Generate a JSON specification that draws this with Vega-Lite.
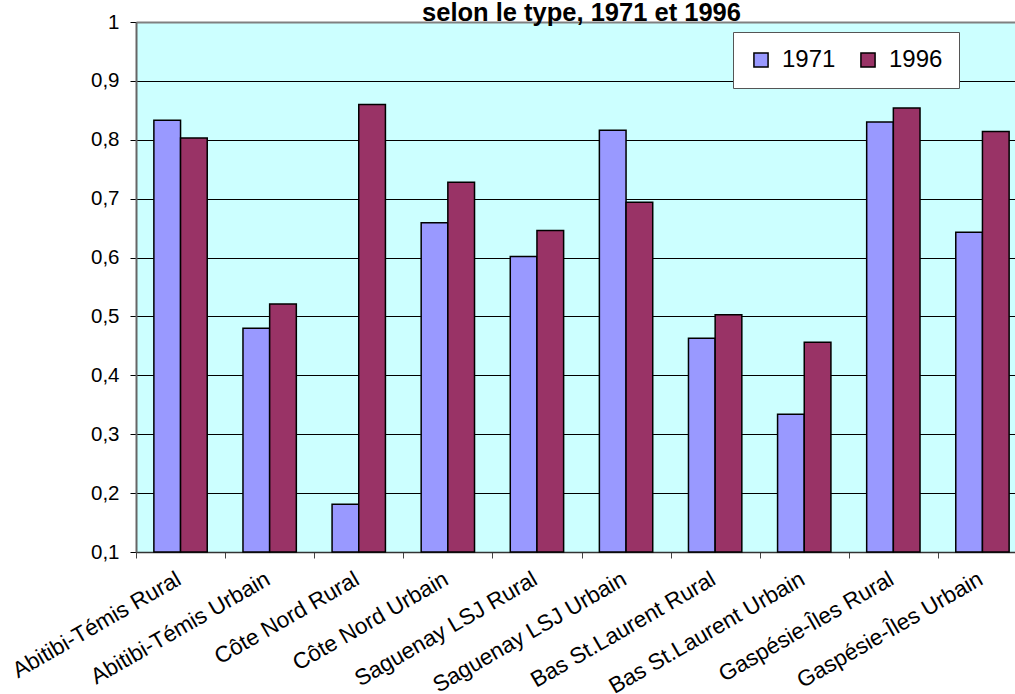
{
  "$schema": "https://vega.github.io/schema/vega-lite/v6.json",
  "autosize": {"type": "none"},
  "padding": {"left": 136, "top": 22, "right": 0, "bottom": 142},
  "width": 879,
  "height": 530,
  "title": {
    "text": "selon le type, 1971 et 1996",
    "font": "Liberation Sans",
    "fontSize": 25.5,
    "fontWeight": "bold",
    "color": "black",
    "anchor": "middle",
    "frame": "group",
    "baseline": "alphabetic",
    "offset": 0,
    "dy": 34,
    "dx": 6
  },
  "data": {
    "values": [
      {"region": "Abitibi-Témis Rural", "annee": "1971", "valeur": 0.833},
      {"region": "Abitibi-Témis Rural", "annee": "1996", "valeur": 0.803},
      {"region": "Abitibi-Témis Urbain", "annee": "1971", "valeur": 0.480},
      {"region": "Abitibi-Témis Urbain", "annee": "1996", "valeur": 0.521},
      {"region": "Côte Nord Rural", "annee": "1971", "valeur": 0.181},
      {"region": "Côte Nord Rural", "annee": "1996", "valeur": 0.860},
      {"region": "Côte Nord Urbain", "annee": "1971", "valeur": 0.659},
      {"region": "Côte Nord Urbain", "annee": "1996", "valeur": 0.728},
      {"region": "Saguenay LSJ Rural", "annee": "1971", "valeur": 0.602},
      {"region": "Saguenay LSJ Rural", "annee": "1996", "valeur": 0.646},
      {"region": "Saguenay LSJ Urbain", "annee": "1971", "valeur": 0.816},
      {"region": "Saguenay LSJ Urbain", "annee": "1996", "valeur": 0.694},
      {"region": "Bas St.Laurent Rural", "annee": "1971", "valeur": 0.463},
      {"region": "Bas St.Laurent Rural", "annee": "1996", "valeur": 0.503},
      {"region": "Bas St.Laurent Urbain", "annee": "1971", "valeur": 0.334},
      {"region": "Bas St.Laurent Urbain", "annee": "1996", "valeur": 0.456},
      {"region": "Gaspésie-Îles Rural", "annee": "1971", "valeur": 0.830},
      {"region": "Gaspésie-Îles Rural", "annee": "1996", "valeur": 0.854},
      {"region": "Gaspésie-Îles Urbain", "annee": "1971", "valeur": 0.643},
      {"region": "Gaspésie-Îles Urbain", "annee": "1996", "valeur": 0.814}
    ]
  },
  "mark": {"type": "bar", "stroke": "black", "strokeWidth": 1.5, "clip": false},
  "encoding": {
    "x": {
      "field": "region",
      "type": "nominal",
      "sort": null,
      "title": null,
      "scale": {"range": [0, 891], "paddingInner": 0, "paddingOuter": 0},
      "axis": {
        "tickBand": "extent",
        "labelAngle": -30,
        "labelAlign": "right",
        "labelBaseline": "middle",
        "labelFont": "Liberation Sans",
        "labelFontSize": 22.5,
        "labelColor": "black",
        "labelPadding": 19,
        "labelOffset": -2,
        "labelOverlap": false,
        "labelLimit": 400,
        "tickSize": 6,
        "tickColor": "#444",
        "domainColor": "#333",
        "domainWidth": 1.5,
        "grid": false
      }
    },
    "xOffset": {
      "field": "annee",
      "type": "nominal",
      "scale": {"paddingInner": 0, "paddingOuter": 0.67}
    },
    "y": {
      "field": "valeur",
      "type": "quantitative",
      "title": null,
      "scale": {"domain": [0.1, 1], "nice": false, "zero": false},
      "axis": {
        "values": [0.1, 0.2, 0.3, 0.4, 0.5, 0.6, 0.7, 0.8, 0.9, 1],
        "labelExpr": "replace(format(datum.value, '.1~f'), '.', ',')",
        "labelFont": "Liberation Sans",
        "labelFontSize": 20.5,
        "labelColor": "black",
        "labelPadding": 11,
        "tickSize": 6,
        "tickColor": "black",
        "domainColor": "#666",
        "domainWidth": 2,
        "grid": true,
        "gridColor": {"condition": {"test": "datum.value == 1", "value": "#808080"}, "value": "black"},
        "gridWidth": {"condition": {"test": "datum.value == 1", "value": 2}, "value": 1},
        "gridOpacity": 1
      }
    },
    "y2": {"datum": 0.1},
    "color": {
      "field": "annee",
      "type": "nominal",
      "title": null,
      "scale": {"domain": ["1971", "1996"], "range": ["#9999FF", "#993366"]},
      "legend": {
        "orient": "none",
        "legendX": 597,
        "legendY": 10,
        "direction": "horizontal",
        "fillColor": "white",
        "strokeColor": "#555",
        "padding": 16,
        "symbolType": "square",
        "symbolSize": 200,
        "symbolStrokeColor": "black",
        "symbolStrokeWidth": 1.5,
        "symbolOpacity": 1,
        "labelFont": "Liberation Sans",
        "labelFontSize": 24,
        "labelColor": "black",
        "labelOffset": 9,
        "columnPadding": 20
      }
    }
  },
  "config": {
    "view": {"fill": "#CCFFFF", "stroke": null},
    "background": "white"
  }
}
